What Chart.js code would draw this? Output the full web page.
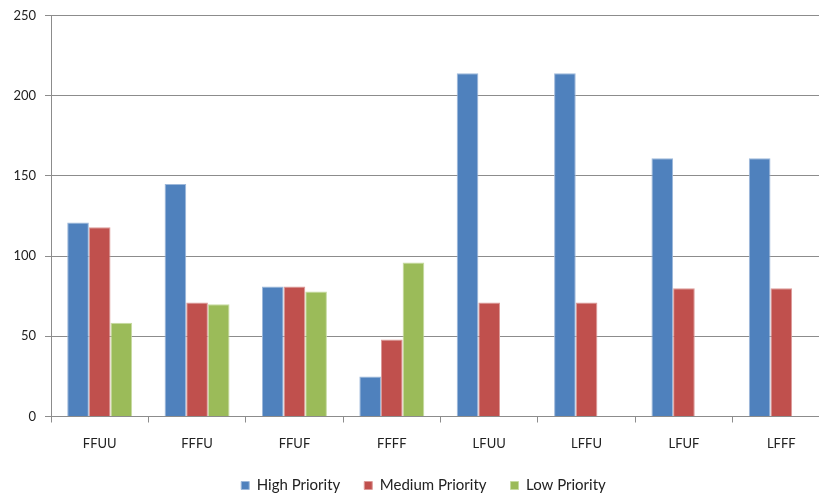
<!DOCTYPE html>
<html>
<head>
<meta charset="utf-8">
<script src="https://cdn.jsdelivr.net/npm/chart.js@4/dist/chart.umd.min.js"></script>
<style>
  html, body { margin: 0; padding: 0; background: #fff; overflow: hidden; }
  #wrap { width: 863px; height: 503px; }
</style>
</head>
<body>
<div id="wrap"><canvas id="c" width="863" height="503"></canvas></div>
<script>
// Scenario categories and priority counts
const categories = ['FFUU', 'FFFU', 'FFUF', 'FFFF', 'LFUU', 'LFFU', 'LFUF', 'LFFF'];
const highPriority   = [121, 145, 81, 25, 214, 214, 161, 161];
const mediumPriority = [118, 71, 81, 48, 71, 71, 80, 80];
const lowPriority    = [58.5, 70, 78, 96, null, null, null, null];
const yTicks = [0, 50, 100, 150, 200, 250];

const FONT = 'Lato, "Open Sans", sans-serif';

// Nudge the legend row a little to the right of the canvas centre
const legendShift = {
  id: 'legendShift',
  afterLayout(chart) {
    if (chart.legend) chart.legend.left += 17;
  }
};

new Chart(document.getElementById('c'), {
  type: 'bar',
  data: {
    labels: categories,
    datasets: [
      { label: 'High Priority', data: highPriority, backgroundColor: '#4f81bd', borderColor: '#9db8da', borderWidth: 1 },
      { label: 'Medium Priority', data: mediumPriority, backgroundColor: '#c0504d', borderColor: '#dc9a98', borderWidth: 1 },
      { label: 'Low Priority', data: lowPriority, backgroundColor: '#9bbb59', borderColor: '#c6dba0', borderWidth: 1 }
    ]
  },
  plugins: [legendShift],
  options: {
    responsive: false,
    animation: false,
    layout: { padding: { left: 0, right: 33, top: -1, bottom: 0 } },
    datasets: { bar: { categoryPercentage: 0.667, barPercentage: 1.0 } },
    scales: {
      x: {
        grid: { drawOnChartArea: false, drawTicks: true, tickLength: 6, color: '#8c8c8c', offset: true },
        border: { display: true, color: '#8c8c8c', width: 1 },
        ticks: { color: '#222', font: { family: FONT, size: 13 }, padding: 14 },
        afterFit: s => { s.height = 37.5; }
      },
      y: {
        min: 0, max: 250,
        afterBuildTicks: s => { s.ticks = yTicks.map(v => ({ value: v })); },
        grid: { color: '#8c8c8c', lineWidth: 1, tickLength: 6, drawTicks: true },
        border: { display: true, color: '#8c8c8c', width: 1 },
        ticks: { color: '#222', font: { family: FONT, size: 13, lineHeight: 1.0 }, padding: 9 },
        afterFit: s => { s.width = 51; }
      }
    },
    plugins: {
      legend: {
        position: 'bottom',
        labels: {
          boxWidth: 8, boxHeight: 8, padding: 24,
          color: '#222', font: { family: FONT, size: 15 }
        }
      },
      tooltip: { enabled: false }
    }
  }
});
</script>
</body>
</html>
